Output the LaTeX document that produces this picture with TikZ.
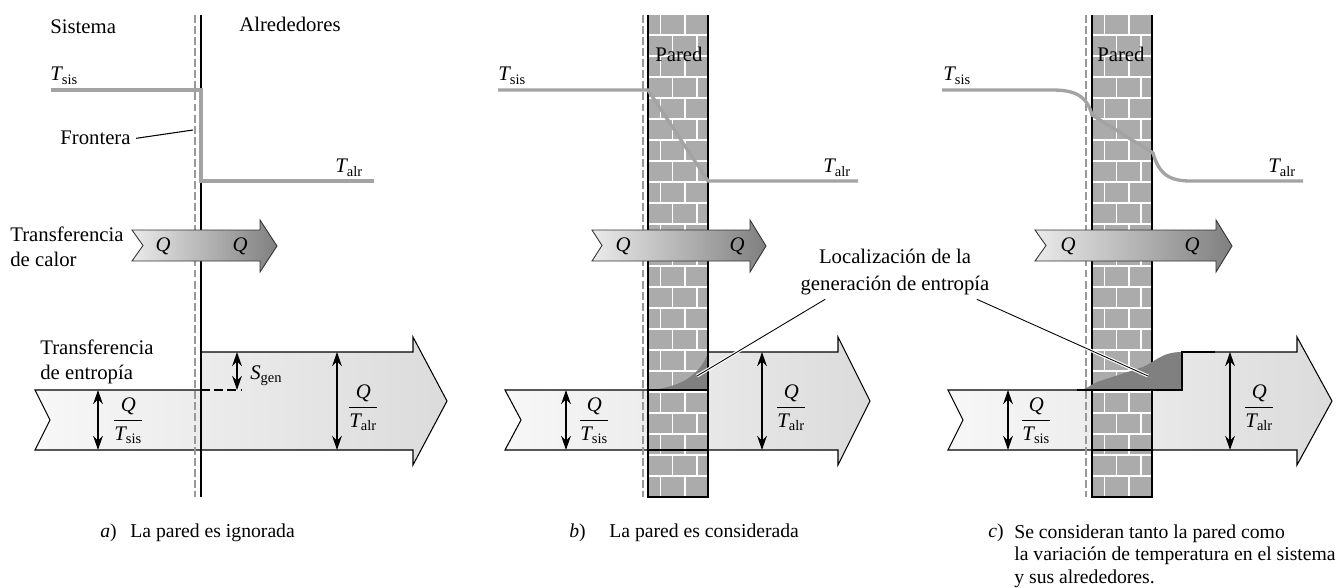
\documentclass[tikz,border=0pt]{standalone}
\usepackage{fontspec}
\setmainfont{Liberation Serif}
\usetikzlibrary{arrows.meta,positioning}

\definecolor{tgray}{gray}{0.64}
\definecolor{wallgray}{gray}{0.67}
\definecolor{wedgegray}{gray}{0.5}
\definecolor{bordergray}{gray}{0.6}

\tikzset{
  lbl/.style={font=\fontsize{11.8}{14}\selectfont,inner sep=0pt},
  caption/.style={font=\fontsize{11.2}{13}\selectfont,inner sep=0pt},
  temp/.style={line width=1.9pt,draw=tgray},
  frontier/.style={draw=bordergray,line width=0.8pt,dash pattern=on 4.5pt off 1.8pt},
  heatarrow/.style={draw=black!80,line width=0.5pt,left color=black!8,right color=black!50},
  sarrow/.style={draw=black,line width=0.6pt,left color=black!3,right color=black!14},
  dimarrow/.style={{Stealth[length=8pt,width=5.5pt]}-{Stealth[length=8pt,width=5.5pt]},line width=1pt},
  mortar/.style={draw=white,line width=0.8pt},
  leader/.style={draw=black,line width=0.5pt,preaction={draw=white,line width=1.8pt}},
}

\begin{document}
\begin{tikzpicture}[x=0.02cm,y=-0.02cm]
    \useasboundingbox (0,0) rectangle (1336,588);
    %% Entropy transfer arrows
    \path[sarrow] (35,390) -- (201,390) -- (201,352) -- (413,352) -- (413,337) -- (447,401) -- (413,465) -- (413,450) -- (35,450) -- (50,420) -- cycle;
    \path[sarrow] (505,390) -- (708,390) -- (708,352) -- (838,352) -- (838,337) -- (870,401) -- (838,465) -- (838,450) -- (505,450) -- (521,420) -- cycle;
    \path[sarrow] (948,390) -- (1182,390) -- (1182,352) -- (1297,352) -- (1297,337) -- (1332,401) -- (1297,465) -- (1297,450) -- (948,450) -- (963,420) -- cycle;
    %% Boundaries
    \draw[frontier] (195,15) -- (195,497);
    \draw[line width=1.1pt] (201,15) -- (201,497);
    \draw[frontier] (643,15) -- (643,497);
    \draw[frontier] (1086,15) -- (1086,497);
    %% Brick walls
    \foreach \wx in {648,1092} {
        \fill[wallgray] (\wx,15) rectangle (\wx+60,497);
        \begin{scope}
            \clip (\wx,15) rectangle (\wx+60,497);
            \foreach \k in {0,...,23}
                \draw[mortar] (\wx,14+21*\k) -- (\wx+60,14+21*\k);
            \foreach \k in {0,2,...,22}
                \draw[mortar] (\wx+12.5,14+21*\k) -- (\wx+12.5,35+21*\k) (\wx+37,14+21*\k) -- (\wx+37,35+21*\k);
            \foreach \k in {1,3,...,23}
                \draw[mortar] (\wx+24.5,14+21*\k) -- (\wx+24.5,35+21*\k) (\wx+49,14+21*\k) -- (\wx+49,35+21*\k);
        \end{scope}
        \draw[line width=0.8pt] (\wx,15) -- (\wx,497) -- (\wx+60,497) -- (\wx+60,15);
        \draw[line width=0.6pt] (\wx,390) -- (\wx+60,390) (\wx,450) -- (\wx+60,450);
    }
    %% Entropy generation inside the wall
    \fill[wedgegray] (648,390) .. controls (680,388) and (700,375) .. (708,353) -- (708,390) -- cycle;
    \draw[line width=0.6pt] (648,390) -- (708,390) -- (708,352);
    \fill[wedgegray] (1077,390) .. controls (1088,390) and (1090,384) .. (1100,381) -- (1140,368) .. controls (1155,363) and (1160,352) .. (1182,352) -- (1182,390) -- cycle;
    \draw[line width=0.6pt] (1077,390) -- (1182,390) -- (1182,352) -- (1215,352);
    %% Heat transfer arrows
    \path[heatarrow] (132,230) -- (260,230) -- (260,220) -- (277,246) -- (260,272) -- (260,261) -- (132,261) -- (143,245.5) -- cycle;
    \path[heatarrow] (592,230) -- (750,230) -- (750,220) -- (766,246) -- (750,272) -- (750,261) -- (592,261) -- (602,245.5) -- cycle;
    \path[heatarrow] (1035,230) -- (1216,230) -- (1216,220) -- (1232,246) -- (1216,272) -- (1216,261) -- (1035,261) -- (1046,245.5) -- cycle;
    \foreach \qx/\qn in {163/qa1,240/qa2,623/qb1,737/qb2,1068/qc1,1192/qc2}
        \node[lbl] (\qn) at (\qx,246) {$\mathit{Q}$};
    %% Temperature profiles
    \draw[temp] (51,90) -- (201,90) -- (201,181) -- (374,181);
    \draw[temp] (498,90) -- (648,90) -- (708,181) -- (858,181);
    \draw[temp] (942,90) -- (1053,90) .. controls (1080,90) and (1088,100) .. (1092,115) -- (1153,153) .. controls (1158,170) and (1165,181) .. (1190,181) -- (1303,181);
    \node[lbl,anchor=base west] (tsisa) at (50,81) {$\mathit{T}_{\mathrm{sis}}$};
    \node[lbl,anchor=base west] (talra) at (335,173) {$\mathit{T}_{\mathrm{alr}}$};
    \node[lbl,anchor=base west] (tsisb) at (498,81) {$\mathit{T}_{\mathrm{sis}}$};
    \node[lbl,anchor=base west] (talrb) at (823,173) {$\mathit{T}_{\mathrm{alr}}$};
    \node[lbl,anchor=base west] (tsisc) at (943,81) {$\mathit{T}_{\mathrm{sis}}$};
    \node[lbl,anchor=base west] (talrc) at (1268,173) {$\mathit{T}_{\mathrm{alr}}$};
    %% Labels
    \node[lbl,anchor=base west] (sist) at (50,34) {Sistema};
    \node[lbl,anchor=base west] (alred) at (239,32) {Alrededores};
    \node[lbl,anchor=base west] (front) at (60,145) {Frontera};
    \coordinate (fronttip) at (193,130);
    \draw[line width=0.6pt] ([xshift=3pt]front.east) -- (fronttip);
    \node[lbl,anchor=base west] (paredb) at (655,62) {Pared};
    \node[lbl,anchor=base west] (paredc) at (1097,62) {Pared};
    \node[lbl,anchor=west,align=left] (heat) at (10,247) {Transferencia\\de calor};
    \node[lbl,anchor=west,align=left,font=\fontsize{11.8}{14.2}\selectfont] (entr) at (40,362) {Transferencia\\de entropía};
    \node[lbl,align=center,font=\fontsize{11.8}{15.3}\selectfont] (loc) at (895,272) {Localización de la\\generación de entropía};
    \coordinate (genb) at (697,376);
    \coordinate (genc) at (1148,376);
    \draw[leader] ([shift={(25,4)}]loc.south west) -- (genb);
    \draw[leader] ([shift={(-13,4)}]loc.south east) -- (genc);
    %% Entropy dimensions
    \draw[dimarrow] (98,390) coordinate (qsa) -- (98,450);
    \draw[dimarrow] (237,352) coordinate (sga) -- (237,390);
    \draw[dimarrow] (337,352) coordinate (qta) -- (337,450);
    \draw[line width=0.6pt,dash pattern=on 5pt off 2.5pt] (201,390) -- (241,390);
    \draw[dimarrow] (566,390) coordinate (qsb) -- (566,450);
    \draw[dimarrow] (762,352) coordinate (qtb) -- (762,450);
    \draw[dimarrow] (1008,390) coordinate (qsc) -- (1008,450);
    \draw[dimarrow] (1230,352) coordinate (qtc) -- (1230,450);
    \node[lbl,anchor=west] (fsa) at (112,421) {$\displaystyle\frac{\mathit{Q}}{\mathit{T}_{\mathrm{sis}}}$};
    \node[lbl,anchor=west] (sgen) at (250,376) {$\mathit{S}_{\mathrm{gen}}$};
    \node[lbl,anchor=west] (fta) at (347,408) {$\displaystyle\frac{\mathit{Q}}{\mathit{T}_{\mathrm{alr}}}$};
    \node[lbl,anchor=west] (fsb) at (578,421) {$\displaystyle\frac{\mathit{Q}}{\mathit{T}_{\mathrm{sis}}}$};
    \node[lbl,anchor=west] (ftb) at (775,408) {$\displaystyle\frac{\mathit{Q}}{\mathit{T}_{\mathrm{alr}}}$};
    \node[lbl,anchor=west] (fsc) at (1020,421) {$\displaystyle\frac{\mathit{Q}}{\mathit{T}_{\mathrm{sis}}}$};
    \node[lbl,anchor=west] (ftc) at (1243,408) {$\displaystyle\frac{\mathit{Q}}{\mathit{T}_{\mathrm{alr}}}$};
    %% Captions
    \node[caption,anchor=base west] (capa) at (100,537) {\textit{a})};
    \node[caption,anchor=base west] (capatxt) at (130,537) {La pared es ignorada};
    \node[caption,anchor=base west] (capb) at (569,537) {\textit{b})};
    \node[caption,anchor=base west] (capbtxt) at (609,537) {La pared es considerada};
    \node[caption,anchor=base west] (capc) at (988,537) {\textit{c})};
    \node[caption,anchor=north west,align=left] (capctxt) at (1014,524) {Se consideran tanto la pared como\\la variación de temperatura en el sistema\\y sus alrededores.};
\end{tikzpicture}
\end{document}
